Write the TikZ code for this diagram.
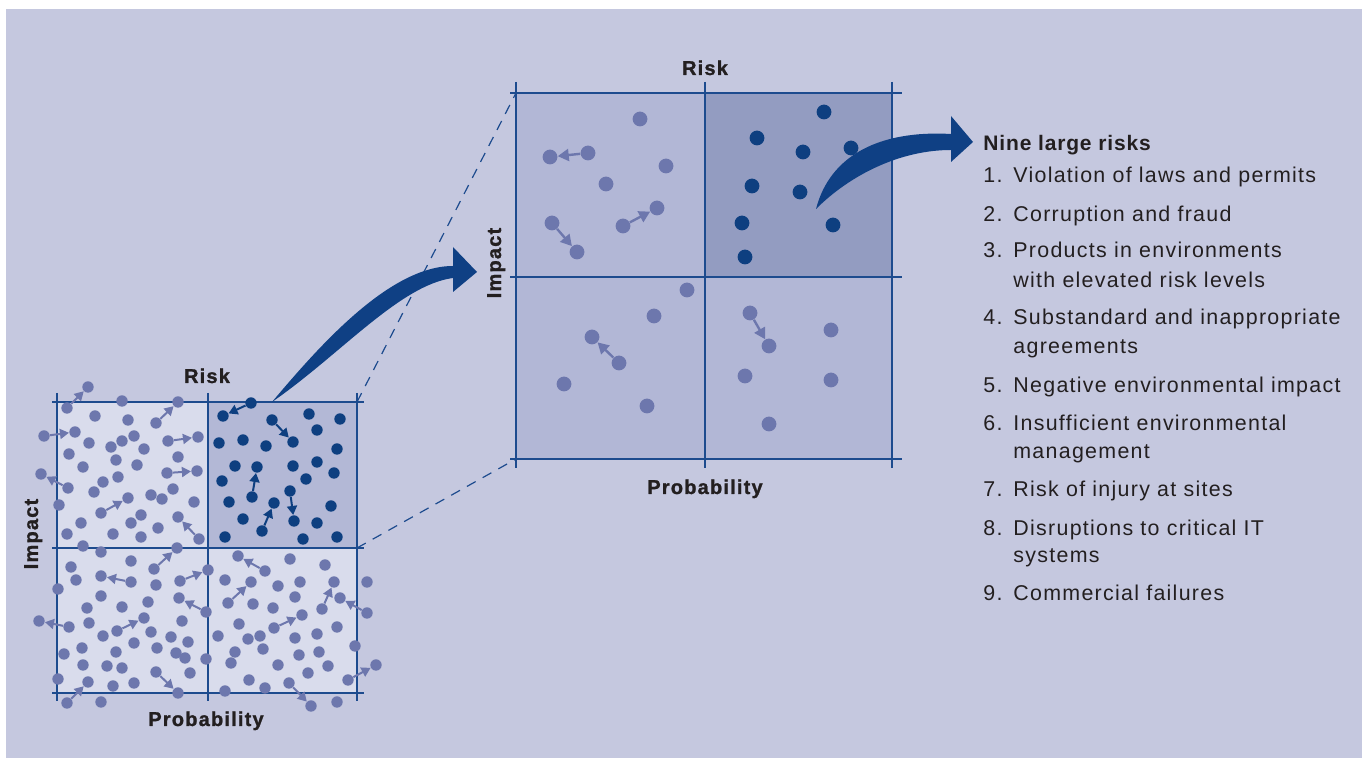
\documentclass[tikz,border=0pt]{standalone}
\usepackage{fontspec}
\setmainfont{Liberation Sans}
\newfontfamily\listfont[LetterSpace=6]{Liberation Sans}
\newfontfamily\titlefont[LetterSpace=4]{Liberation Sans}
\newfontfamily\axisfont[LetterSpace=6,FakeBold=1.2]{Liberation Sans}
\usetikzlibrary{arrows.meta}

\definecolor{bgblue}{HTML}{C5C8DF}
\definecolor{lightq}{HTML}{D9DCEC}
\definecolor{lightdq}{HTML}{B3B8D6}
\definecolor{bigq}{HTML}{B2B7D6}
\definecolor{bigdq}{HTML}{939CC1}
\definecolor{dotlight}{HTML}{6D77AD}
\definecolor{dotdark}{HTML}{0E3F80}
\definecolor{gridblue}{HTML}{1D4B8E}
\definecolor{arrowblue}{HTML}{0F4084}
\definecolor{textgray}{HTML}{231F20}

\begin{document}
\begin{tikzpicture}[x=0.5pt, y=-0.5pt,
	sdot/.style={circle, inner sep=0pt, minimum size=5.7pt, fill=dotlight},
	sdark/.style={sdot, fill=dotdark},
	bdot/.style={circle, inner sep=0pt, minimum size=7.4pt, fill=dotlight},
	bdark/.style={bdot, fill=dotdark},
	sarr/.style={draw=dotlight, line width=1pt, -{Triangle[length=4.5pt,width=5pt]}},
	sdarr/.style={sarr, draw=dotdark},
	barr/.style={draw=dotlight, line width=1.2pt, -{Triangle[length=5.5pt,width=6pt]}},
	gridline/.style={draw=gridblue, line width=1pt},
	axis/.style={font={\axisfont\bfseries\fontsize{10}{11}\selectfont}, text=textgray, inner sep=0pt},
	item/.style={font={\listfont\fontsize{10.7}{12}\selectfont}, text=textgray, anchor=base west, inner sep=0pt}]

	\useasboundingbox (0,0) rectangle (1362,758);
	\fill[white] (0,0) rectangle (1362,758);
	\fill[bgblue] (6,9) rectangle (1362,758);

	% small matrix
	\fill[lightq] (57,402) rectangle (357,693);
	\fill[lightdq] (208,402) rectangle (357,548);
	\foreach \y in {402,548,693} \draw[gridline] (52,\y) -- (364,\y);
	\foreach \x in {57,208,357} \draw[gridline] (\x,393) -- (\x,701);
	\coordinate (sTR) at (357,402);
	\coordinate (sMR) at (357,548);

	\node[axis, anchor=base] (srisk) at (207,383) {Risk};
	\node[axis, anchor=base] (sprob) at (206,726) {Probability};
	\node[axis, anchor=base, rotate=90] (simp) at (38,534) {Impact};

	% small dots
	\foreach \x/\y [count=\i] in {122/401,95/416,128/420,89/443,111/447,122/441,134/436,144/449,69/454,
		116/460,178/457,83/467,137/465,103/482,118/477,94/492,173/489,151/495,162/499,194/502,59/505,
		141/515,81/523,131/523,158/528,67/534,113/534,141/537,83/546,101/552,
		131/561,71/567,76/580,156/585,58/589,101/596,148/602,122/607,87/608,89/623,182/621,151/632,
		103/636,171/637,188/642,134/643,82/648,157/648,116/652,64/654,176/653,185/658,206/659,83/665,
		107/666,122/668,190/673,58/679,113/686,134/683,101/702,
		290/559,325/565,225/580,278/586,300/582,367/582,295/597,253/604,273/608,239/624,337/627,
		218/636,248/639,260/636,295/638,317/634,355/646,235/652,263/649,319/652,299/655,231/663,
		278/665,328/666,308/673,249/680,225/691,265/688,337/702}
		\node[sdot] (sl\i) at (\x,\y) {};
	\foreach \x/\y [count=\i] in {309/414,340/419,317/430,219/443,243/440,266/446,337/449,235/466,
		293/466,317/462,334/473,222/481,306/479,229/502,331/506,243/519,317/523,225/537,303/539,337/537}
		\node[sdark] (sd\i) at (\x,\y) {};

	% small moves
	\foreach \xa/\ya/\xb/\yb [count=\i] in {67/408/88/387,156/423/178/402,44/436/75/432,168/441/198/437,
		167/473/197/471,68/488/41/474,101/513/128/498,199/539/178/517,154/569/177/548,131/582/101/576,
		180/581/208/570,206/612/179/598,69/627/39/621,117/631/144/618,156/672/178/693,67/703/88/682,
		265/571/238/556,228/603/251/582,367/613/340/598,322/609/334/582,274/628/302/615,348/680/376/665,
		289/683/311/706} {
		\node[sdot] (sla\i) at (\xa,\ya) {};
		\node[sdot] (slb\i) at (\xb,\yb) {};
		\draw[sarr] (sla\i) -- (slb\i);
	}
	\foreach \xa/\ya/\xb/\yb [count=\i] in {251/403/223/416,272/420/293/442,252/497/257/467,
		290/491/294/521,262/531/274/503} {
		\node[sdark] (sda\i) at (\xa,\ya) {};
		\node[sdark] (sdb\i) at (\xb,\yb) {};
		\draw[sdarr] (sda\i) -- (sdb\i);
	}

	% large matrix
	\fill[bigq] (516,93) rectangle (892,459);
	\fill[bigdq] (705,93) rectangle (892,277);
	\foreach \y in {93,277,459} \draw[gridline] (510,\y) -- (902,\y);
	\foreach \x in {516,705,892} \draw[gridline] (\x,82) -- (\x,468);
	\coordinate (bTL) at (516,93);
	\coordinate (bBL) at (516,459);

	\node[axis, anchor=base] (brisk) at (705,75) {Risk};
	\node[axis, anchor=base] (bprob) at (705,494) {Probability};
	\node[axis, anchor=base, rotate=90] (bimp) at (501,263) {Impact};

	\foreach \x/\y [count=\i] in {640/119,666/166,606/184,687/290,654/316,564/384,647/406,
		831/330,745/376,831/380,769/424}
		\node[bdot] (bl\i) at (\x,\y) {};
	\foreach \x/\y [count=\i] in {824/112,757/138,803/152,851/148,752/186,800/192,742/223,833/225,745/257}
		\node[bdark] (bd\i) at (\x,\y) {};
	\foreach \xa/\ya/\xb/\yb [count=\i] in {588/153/550/157,552/223/577/252,623/226/657/208,
		619/363/592/337,750/313/769/346} {
		\node[bdot] (bla\i) at (\xa,\ya) {};
		\node[bdot] (blb\i) at (\xb,\yb) {};
		\draw[barr] (bla\i) -- (blb\i);
	}

	% zoom lines
	\draw[gridblue, line width=0.6pt, dash pattern=on 5pt off 4pt] (sTR) -- (bTL);
	\draw[gridblue, line width=0.6pt, dash pattern=on 5pt off 4pt] (sMR) -- (bBL);

	% curved arrows
	\coordinate (stail) at (272,402);
	\coordinate (btail) at (816,209);
	\fill[arrowblue] (stail) .. controls (320,345) and (390,266) .. (453,266) -- (453,247) -- (477,272)
		-- (453,292) -- (453,278) .. controls (400,285) and (340,355) .. (stail) -- cycle;
	\fill[arrowblue] (btail) .. controls (830,155) and (880,130) .. (951,134) -- (951,116) -- (973,142)
		-- (951,162) -- (951,150) .. controls (900,150) and (850,175) .. (btail) -- cycle;

	% list of risks
	\node[item, font={\titlefont\bfseries\fontsize{10.5}{12}\selectfont}] (title) at (983,151) {Nine large risks};
	\foreach \n/\y in {1/183,2/222,3/258,4/325,5/393,6/431,7/497,8/536,9/601}
		\node[item] (num\n) at (983,\y) {\n.};
	\foreach \y/\t [count=\i] in {183/{Violation of laws and permits},222/{Corruption and fraud},
		258/{Products in environments},288/{with elevated risk levels},
		325/{Substandard and inappropriate},354/{agreements},
		393/{Negative environmental impact},431/{Insufficient environmental},459/{management},
		497/{Risk of injury at sites},536/{Disruptions to critical IT},563/{systems},
		601/{Commercial failures}}
		\node[item] (line\i) at (1013,\y) {\t};
\end{tikzpicture}
\end{document}
